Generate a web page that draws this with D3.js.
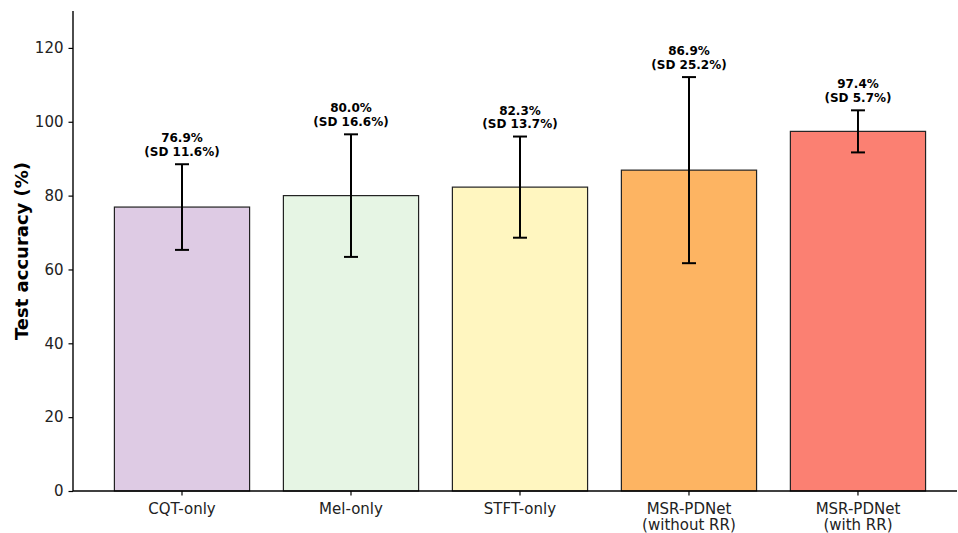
<!DOCTYPE html>
<html>
<head>
<meta charset="utf-8">
<script src="https://cdn.jsdelivr.net/npm/d3@7"></script>
<style>
  body { margin: 0; background: #fff; }
  svg { display: block; font-family: "DejaVu Sans", sans-serif; }
</style>
</head>
<body>
<svg id="chart" width="958" height="533"></svg>
<script>
// Test accuracy per input representation (mean and standard deviation, %)
const categories = [["CQT-only"], ["Mel-only"], ["STFT-only"], ["MSR-PDNet", "(without RR)"], ["MSR-PDNet", "(with RR)"]];
const means = [76.9, 80.0, 82.3, 86.9, 97.4];
const sds = [11.6, 16.6, 13.7, 25.2, 5.7];
const colors = ["#decbe4", "#e6f5e4", "#fff6c0", "#fdb462", "#fb8072"];
const yTicks = [0, 20, 40, 60, 80, 100, 120];

const svg = d3.select("#chart");
const plot = { left: 73, right: 957, top: 11, bottom: 491 };

const x = d3.scaleLinear().domain([-0.645, 4.586]).range([plot.left, plot.right]);
const y = d3.scaleLinear().domain([0, 130]).range([plot.bottom, plot.top]);
const barW = x(0.4) - x(-0.4);

const idx = means.map((_, i) => i);

// bars
svg.append("g").selectAll("rect").data(idx).join("rect")
  .attr("x", i => x(i) - barW / 2)
  .attr("y", i => y(means[i]))
  .attr("width", barW)
  .attr("height", i => y(0) - y(means[i]))
  .attr("fill", i => colors[i])
  .attr("stroke", "#222")
  .attr("stroke-width", 1.2);

// error bars
const err = svg.append("g").attr("stroke", "#000").attr("stroke-width", 2);
idx.forEach(i => {
  const lo = y(means[i] - sds[i]), hi = y(means[i] + sds[i]), cx = x(i);
  err.append("line").attr("x1", cx).attr("x2", cx).attr("y1", lo).attr("y2", hi);
  err.append("line").attr("x1", cx - 7).attr("x2", cx + 7).attr("y1", lo).attr("y2", lo);
  err.append("line").attr("x1", cx - 7).attr("x2", cx + 7).attr("y1", hi).attr("y2", hi);
});

// value labels
const lbl = svg.append("g").attr("font-size", 12).attr("font-weight", "bold").attr("text-anchor", "middle").attr("fill", "#000");
idx.forEach(i => {
  const top = y(means[i] + sds[i]);
  const t = lbl.append("text").attr("x", x(i)).attr("y", top - 22);
  t.append("tspan").attr("x", x(i)).text(means[i].toFixed(1) + "%");
  t.append("tspan").attr("x", x(i)).attr("dy", 13.5).text("(SD " + sds[i].toFixed(1) + "%)");
});

// y axis
const yAxis = svg.append("g").attr("transform", `translate(${plot.left},0)`)
  .call(d3.axisLeft(y).tickValues(yTicks).tickSize(4.5).tickPadding(5).tickSizeOuter(0));
yAxis.select(".domain").attr("stroke", "#000").attr("stroke-width", 1.4)
  .attr("d", `M0,${plot.bottom}V${plot.top}`);
yAxis.selectAll(".tick line").attr("stroke", "#000").attr("stroke-width", 1.2);
yAxis.selectAll(".tick text").attr("font-size", 15).attr("fill", "#222").attr("font-family", "DejaVu Sans");

// x axis
const xAxis = svg.append("g").attr("transform", `translate(0,${plot.bottom})`);
xAxis.append("line").attr("x1", plot.left).attr("x2", plot.right).attr("stroke", "#000").attr("stroke-width", 1.4);
idx.forEach(i => {
  xAxis.append("line").attr("x1", x(i)).attr("x2", x(i)).attr("y1", 0).attr("y2", 4.5).attr("stroke", "#000").attr("stroke-width", 1.2);
  const t = xAxis.append("text").attr("text-anchor", "middle").attr("font-size", 15).attr("fill", "#222").attr("y", 22.5);
  categories[i].forEach((line, k) => {
    t.append("tspan").attr("x", x(i)).attr("dy", k === 0 ? 0 : 16.5).text(line);
  });
});

// y label
svg.append("text")
  .attr("transform", `translate(28,${(plot.top + plot.bottom) / 2}) rotate(-90)`)
  .attr("text-anchor", "middle")
  .attr("font-size", 18).attr("font-weight", "bold").attr("fill", "#000")
  .text("Test accuracy (%)");
</script>
</body>
</html>
